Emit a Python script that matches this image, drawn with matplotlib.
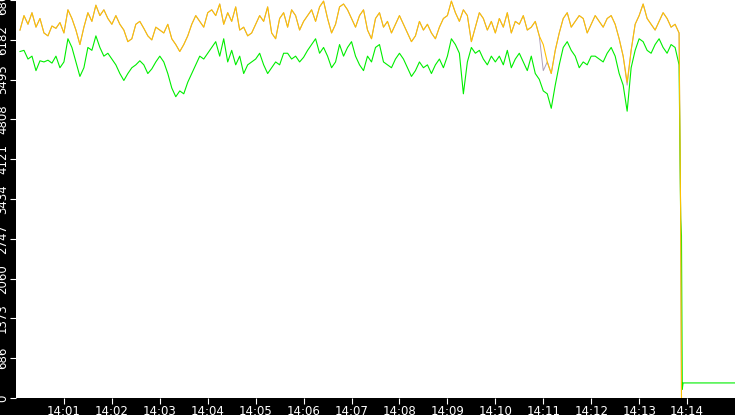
import matplotlib
matplotlib.use("Agg")
import matplotlib.pyplot as plt
import numpy as np

# values every 5 s from 14:00:05 to 14:13:50
yellow = [6350,6600,6450,6650,6400,6550,6300,6250,6420,6380,6480,6300,
          6700,6550,6350,6100,6400,6650,6500,6780,6600,6700,6550,6450,
          6600,6450,6350,6150,6200,6450,6500,6380,6250,6180,6400,6350,
          6300,6450,6200,6100,5980,6100,6250,6450,6600,6500,6400,6650,
          6700,6600,6800,6450,6650,6500,6750,6350,6400,6250,6300,6450,
          6600,6500,6750,6300,6200,6550,6650,6400,6700,6600,6350,6500,
          6600,6700,6500,6750,6850,6550,6300,6450,6750,6800,6700,6550,
          6400,6600,6700,6350,6200,6550,6650,6400,6500,6300,6450,6600,
          6450,6300,6150,6250,6500,6350,6450,6300,6200,6400,6550,6600,
          6850,6650,6500,6700,6600,6150,6400,6650,6550,6350,6500,6300,
          6550,6400,6650,6300,6500,6450,6600,6350,6400,6500,6250,6100,
          5800,5600,6000,6300,6550,6650,6400,6500,6600,6550,6300,6450,
          6600,6500,6400,6550,6600,6450,6200,5900,5450,6000,6450,6600,
          6800,6550,6450,6350,6500,6650,6550,6400,6450,6300]
green = [5980,6000,5850,5900,5650,5820,5800,5830,5780,5900,5700,5800,
         6200,6050,5800,5550,5700,6050,6000,6250,6050,5900,5950,5850,
         5750,5600,5480,5600,5700,5750,5820,5750,5600,5680,5800,5900,
         5800,5600,5350,5200,5300,5250,5450,5600,5750,5900,5850,5950,
         6050,6150,5900,6200,5800,6000,5750,5900,5600,5750,5800,5850,
         5950,5750,5600,5700,5800,5750,5950,5950,5850,5900,5800,5880,
         6000,6100,6200,5950,6050,5900,5700,5800,6100,5900,6050,6150,
         5900,5750,5650,5900,5800,6050,6100,5800,5750,5700,5850,5950,
         5850,5700,5550,5650,5800,5700,5750,5600,5750,5850,5700,5900,
         6200,6100,5950,5250,5800,6050,5950,6000,5850,5750,5900,5800,
         5900,5750,6000,5700,5850,5950,5800,5650,5900,5600,5500,5300,
         5250,5000,5400,5750,6050,6150,6000,5900,5700,5800,5750,5900,
         5900,5850,5800,5950,6050,5900,5600,5400,4950,5700,6000,6200,
         6150,6000,5950,6100,6200,6050,5950,6100,6050,5750]
# tail after the drop (seconds after 14:00, value)
yellow_tail_t = [832, 833]
yellow_tail_v = [3100, 0]
green_tail_t = [832, 833, 834, 835, 900]
green_tail_v = [3100, 2800, 150, 260, 260]
# grey series differs from yellow only slightly in a few dips
grey_dips = {131: 5650, 152: 5400}

yticks = [0, 686, 1373, 2060, 2747, 3434, 4121, 4808, 5495, 6182, 6869]
xlabels = ["14:01","14:02","14:03","14:04","14:05","14:06","14:07",
           "14:08","14:09","14:10","14:11","14:12","14:13","14:14"]

t = np.arange(len(yellow)) * 5 + 5
grey = [grey_dips.get(i, v) for i, v in enumerate(yellow)]

fig = plt.figure(figsize=(7.35, 4.15), dpi=100, facecolor="black")
ax = fig.add_axes([16/735, 17/415, 719/735, 398/415])
ax.set_facecolor("white")
ax.plot(np.r_[t, yellow_tail_t], np.r_[grey, yellow_tail_v], color="#b0a0b8", lw=0.7)
ax.plot(np.r_[t, green_tail_t], np.r_[green, green_tail_v], color="#00ee00", lw=0.8)
ax.plot(np.r_[t, yellow_tail_t], np.r_[yellow, yellow_tail_v], color="#ffc000", lw=0.8)

ax.set_xlim(0, 900)
ax.set_ylim(0, 6869)
ax.set_yticks(yticks)
ax.set_yticklabels([str(v) for v in yticks], rotation=90, va="center")
ax.set_xticks([60*(i+1) for i in range(len(xlabels))])
ax.set_xticklabels(xlabels)
ax.tick_params(colors="white", labelsize=8.5, length=4, pad=1)
for s in ax.spines.values():
    s.set_visible(False)
fig.savefig("out.png", facecolor="black")
